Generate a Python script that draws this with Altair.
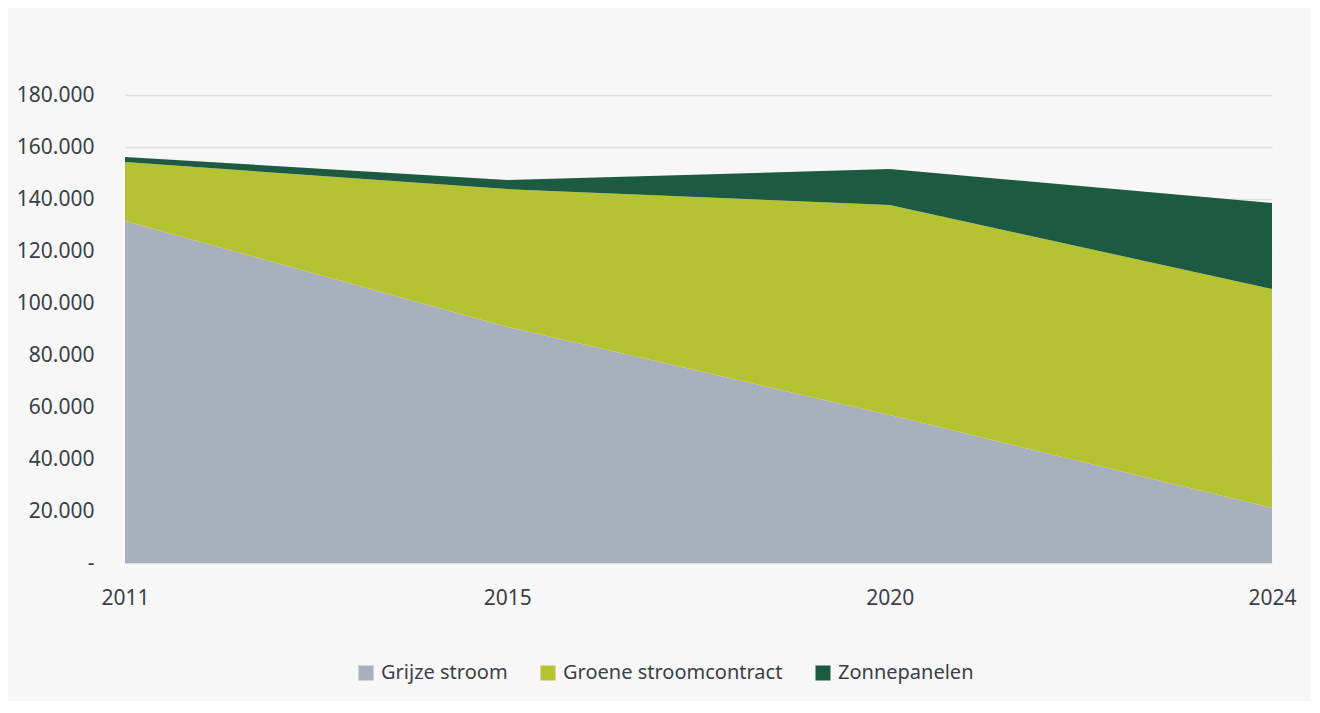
import pandas as pd
import altair as alt

# values (kWh per year)
jaren = ["2011", "2015", "2020", "2024"]
grijze_stroom = [131500, 90800, 56900, 21200]
groene_stroom = [22700, 53000, 80800, 84200]
zonnepanelen = [2000, 3500, 13800, 33100]

reeksen = ["Grijze stroom", "Groene stroomcontract", "Zonnepanelen"]
kleuren = ["#a7b0bc", "#b5c332", "#1d5a42"]

rows = []
for i, jaar in enumerate(jaren):
    for rang, (naam, waarden) in enumerate(zip(reeksen, [grijze_stroom, groene_stroom, zonnepanelen])):
        rows.append({"Jaar": jaar, "Bron": naam, "Verbruik": waarden[i], "rang": rang})
df = pd.DataFrame(rows)

font = "Noto Sans"
tekst = "#3b3f45"

chart = alt.Chart(df).mark_area(opacity=1).encode(
    x=alt.X("Jaar:O", scale=alt.Scale(type="point", padding=0),
            axis=alt.Axis(title=None, labelAngle=0, domain=False, ticks=False,
                          labelPadding=24, labelFontSize=21, labelColor=tekst,
                          labelFont=font)),
    y=alt.Y("Verbruik:Q", stack="zero", scale=alt.Scale(domain=[0, 180000], nice=False),
            axis=alt.Axis(title=None, values=list(range(0, 180001, 20000)), domain=False,
                          ticks=False, labelPadding=31, labelFontSize=21, labelColor=tekst,
                          labelFont=font, gridColor="#dedfe1", gridWidth=1.5,
                          labelExpr="datum.value == 0 ? '-' : replace(format(datum.value, ','), ',', '.')")),
    color=alt.Color("Bron:N", scale=alt.Scale(domain=reeksen, range=kleuren),
                    legend=alt.Legend(title=None, orient="none", direction="horizontal",
                                      legendX=231, legendY=568, symbolType="square",
                                      symbolSize=225, symbolStrokeWidth=0, labelFontSize=20,
                                      labelColor=tekst, labelFont=font, columnPadding=30,
                                      labelOffset=5, labelLimit=400, symbolOpacity=1)),
    order=alt.Order("rang:Q", sort="ascending"),
).properties(
    width=1147,
    height=468,
    background="#f7f7f7",
    padding={"left": 117, "top": 87, "right": 38, "bottom": 138},
    autosize=alt.AutoSizeParams(type="none"),
).configure_view(stroke=None)

chart.save("out.html", embed_options={"renderer": "svg", "actions": False})
